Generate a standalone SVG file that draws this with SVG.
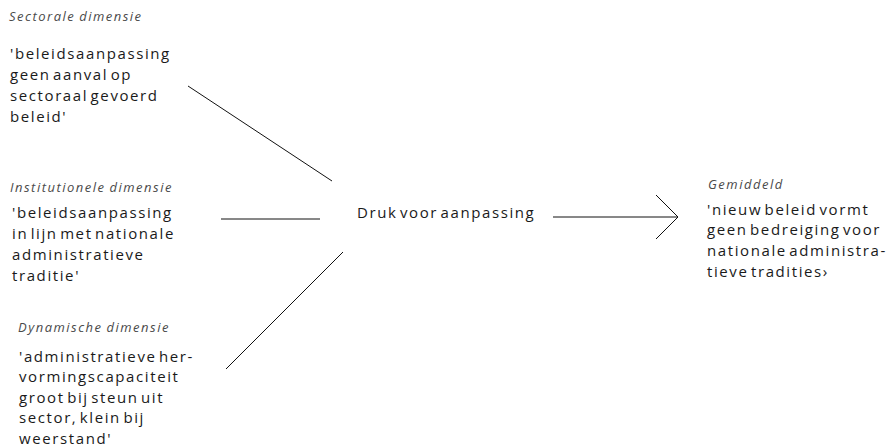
<svg xmlns="http://www.w3.org/2000/svg" width="889" height="448" viewBox="0 0 889 448">
  <style>
    .dim { font-family: "Open Sans", "DejaVu Sans", sans-serif; font-style: italic; font-size: 13px; fill: #4a4a4a; letter-spacing: 1.5px; word-spacing: -1px; }
    .body { font-family: "Open Sans", "DejaVu Sans", sans-serif; font-size: 15px; fill: #1a1a1a; letter-spacing: 1.6px; word-spacing: -3px; }
    .link { stroke: #111; stroke-width: 1; fill: none; }
  </style>
  <rect width="889" height="448" fill="#fff"/>

  <g id="sectoral">
    <text class="dim" x="9" y="21">Sectorale dimensie</text>
    <text class="body" x="10" y="59">
      <tspan x="10" y="59">'beleidsaanpassing</tspan>
      <tspan x="10" y="80">geen aanval op</tspan>
      <tspan x="10" y="101">sectoraal gevoerd</tspan>
      <tspan x="10" y="122">beleid'</tspan>
    </text>
  </g>

  <g id="institutional">
    <text class="dim" x="10" y="192">Institutionele dimensie</text>
    <text class="body" x="12" y="218">
      <tspan x="12" y="218">'beleidsaanpassing</tspan>
      <tspan x="12" y="239">in lijn met nationale</tspan>
      <tspan x="12" y="260">administratieve</tspan>
      <tspan x="12" y="281">traditie'</tspan>
    </text>
  </g>

  <g id="dynamic">
    <text class="dim" x="18" y="332">Dynamische dimensie</text>
    <text class="body" x="19" y="362">
      <tspan x="19" y="362">'administratieve her-</tspan>
      <tspan x="19" y="382">vormingscapaciteit</tspan>
      <tspan x="19" y="403">groot bij steun uit</tspan>
      <tspan x="19" y="423">sector, klein bij</tspan>
      <tspan x="19" y="444">weerstand'</tspan>
    </text>
  </g>

  <g id="pressure">
    <text class="body" x="357" y="218">Druk voor aanpassing</text>
  </g>

  <g id="outcome">
    <text class="dim" x="708" y="189">Gemiddeld</text>
    <text class="body" x="707" y="215">
      <tspan x="707" y="215">'nieuw beleid vormt</tspan>
      <tspan x="707" y="235">geen bedreiging voor</tspan>
      <tspan x="707" y="256">nationale administra-</tspan>
      <tspan x="707" y="277">tieve tradities›</tspan>
    </text>
  </g>

  <g id="connectors">
    <line class="link" x1="188" y1="86" x2="332" y2="181"/>
    <line class="link" x1="221" y1="219" x2="320" y2="219"/>
    <line class="link" x1="226" y1="369" x2="343" y2="252"/>
    <line class="link" x1="553" y1="217" x2="678" y2="217"/>
    <polyline class="link" points="656,195 678,217 656,239"/>
  </g>
</svg>
